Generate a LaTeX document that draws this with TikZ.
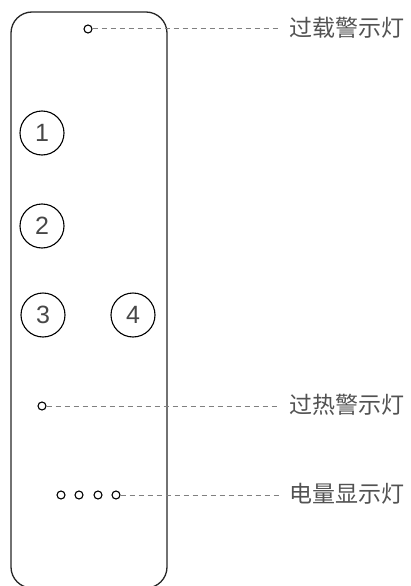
\documentclass[tikz,border=0pt]{standalone}
\usepackage{fontspec}
\newfontfamily\cjk{Noto Sans CJK SC}
\setsansfont{Liberation Sans}

\begin{document}
\begin{tikzpicture}[x=1pt,y=-1pt,
		body/.style={draw=black!85,line width=1.3pt,rounded corners=21pt},
		btn/.style={circle,draw=black,line width=1.1pt,minimum size=44pt,inner sep=0pt,
			font=\sffamily\fontsize{25}{25}\selectfont,text=black!72},
		led/.style={circle,draw=black,line width=1.1pt,minimum size=8pt,inner sep=0pt},
		lead/.style={draw=black!50,line width=1pt,dash pattern=on 5pt off 4pt,shorten >=9pt},
		tag/.style={anchor=west,inner sep=0pt,font=\cjk\fontsize{23}{23}\selectfont,text=black!68}]
			\useasboundingbox (0,0) rectangle (411,586); % same size as the reference
			% housing of the remote
			\draw[body] (11,12) rectangle (167,588);
			% push buttons
			\node[btn] (key1) at (42,133) {1};
			\node[btn] (key2) at (42,226) {2};
			\node[btn] (key3) at (43,315) {3};
			\node[btn] (key4) at (133,315) {4};
			% indicator lamps
			\node[led] (overload) at (88,29) {};
			\node[led] (overheat) at (42,406) {};
			\node[led] (bat1) at (61,495) {};
			\node[led] (bat2) at (79,495) {};
			\node[led] (bat3) at (98,495) {};
			\node[led] (bat4) at (116,495) {};
			% labels on the right
			\node[tag] (overloadtxt) at (289,28) {过载警示灯};
			\node[tag] (overheattxt) at (289,405) {过热警示灯};
			\node[tag] (battxt) at (289,494) {电量显示灯};
			\draw[lead] (overload) -- (overload -| overloadtxt.west);
			\draw[lead] (overheat) -- (overheat -| overheattxt.west);
			\draw[lead] (bat4) -- (bat4 -| battxt.west);
		\end{tikzpicture}
\end{document}
